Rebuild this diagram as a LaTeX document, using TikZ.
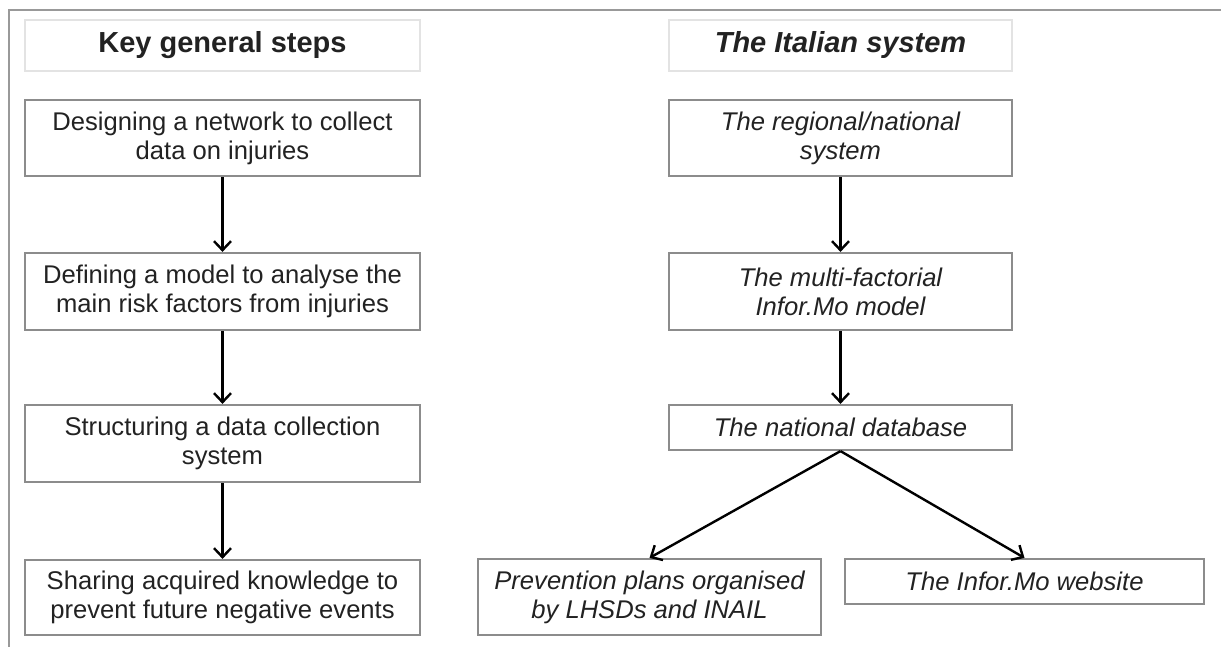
\documentclass[tikz,border=0pt]{standalone}
\usepackage{fontspec}
\setmainfont{Liberation Sans}
\usetikzlibrary{arrows.meta}
\definecolor{txt}{HTML}{222222}
\definecolor{boxline}{HTML}{8C8C8C}
\definecolor{headline}{HTML}{E3E3E3}
\definecolor{frameline}{HTML}{999999}
\tikzset{
  stepbox/.style={draw=boxline, line width=2.2pt, fill=white, text=txt,
    align=center, inner sep=0pt,
    font=\fontsize{25.6}{29}\selectfont},
  headbox/.style={draw=headline, line width=1.2pt, text=txt, align=center,
    inner sep=0pt, font=\fontsize{29}{33}\selectfont\bfseries},
  flow/.style={draw=black, line width=2.4pt, -{Straight Barb[length=9pt,width=17pt,line width=2.4pt]}}
}
\begin{document}
\begin{tikzpicture}[x=1pt,y=-1pt]
\useasboundingbox (0,0) rectangle (1221,647);
\draw[frameline, line width=2.6pt] (9,647) -- (9,10) -- (1221,10);
% left column
\node[headbox, minimum width=395pt, minimum height=51pt] (hl) at (222.5,45.5) {Key general steps};
\node[stepbox, minimum width=395pt, minimum height=76pt] (l1) at (222.5,138) {Designing a network to collect\\data on injuries};
\node[stepbox, minimum width=395pt, minimum height=77pt] (l2) at (222.5,291.5) {Defining a model to analyse the\\main risk factors from injuries};
\node[stepbox, minimum width=395pt, minimum height=77pt] (l3) at (222.5,443.5) {Structuring a data collection\\system};
\node[stepbox, minimum width=395pt, minimum height=75pt] (l4) at (222.5,597.5) {Sharing acquired knowledge to\\prevent future negative events};
% right column
\node[headbox, minimum width=343pt, minimum height=51pt] (hr) at (840.5,45.5) {\itshape The Italian system};
\node[stepbox, minimum width=343pt, minimum height=76pt] (r1) at (840.5,138) {\itshape The regional/national\\\itshape system};
\node[stepbox, minimum width=343pt, minimum height=77pt] (r2) at (840.5,291.5) {\itshape The multi-factorial\\\itshape Infor.Mo model};
\node[stepbox, minimum width=343pt, minimum height=45pt] (r3) at (840.5,427.5) {\itshape The national database};
\node[stepbox, minimum width=343pt, minimum height=76pt] (p) at (649.5,597) {\itshape Prevention plans organised\\\itshape by LHSDs and INAIL};
\node[stepbox, minimum width=359pt, minimum height=45pt] (w) at (1024.5,581.5) {\itshape The Infor.Mo website};
% arrows
\draw[flow] (l1) -- (l2);
\draw[flow] (l2) -- (l3);
\draw[flow] (l3) -- (l4);
\draw[flow] (r1) -- (r2);
\draw[flow] (r2) -- (r3);
\draw[flow] (r3.south) -- (p.north);
\draw[flow] (r3.south) -- (w.north);
\end{tikzpicture}
\end{document}
